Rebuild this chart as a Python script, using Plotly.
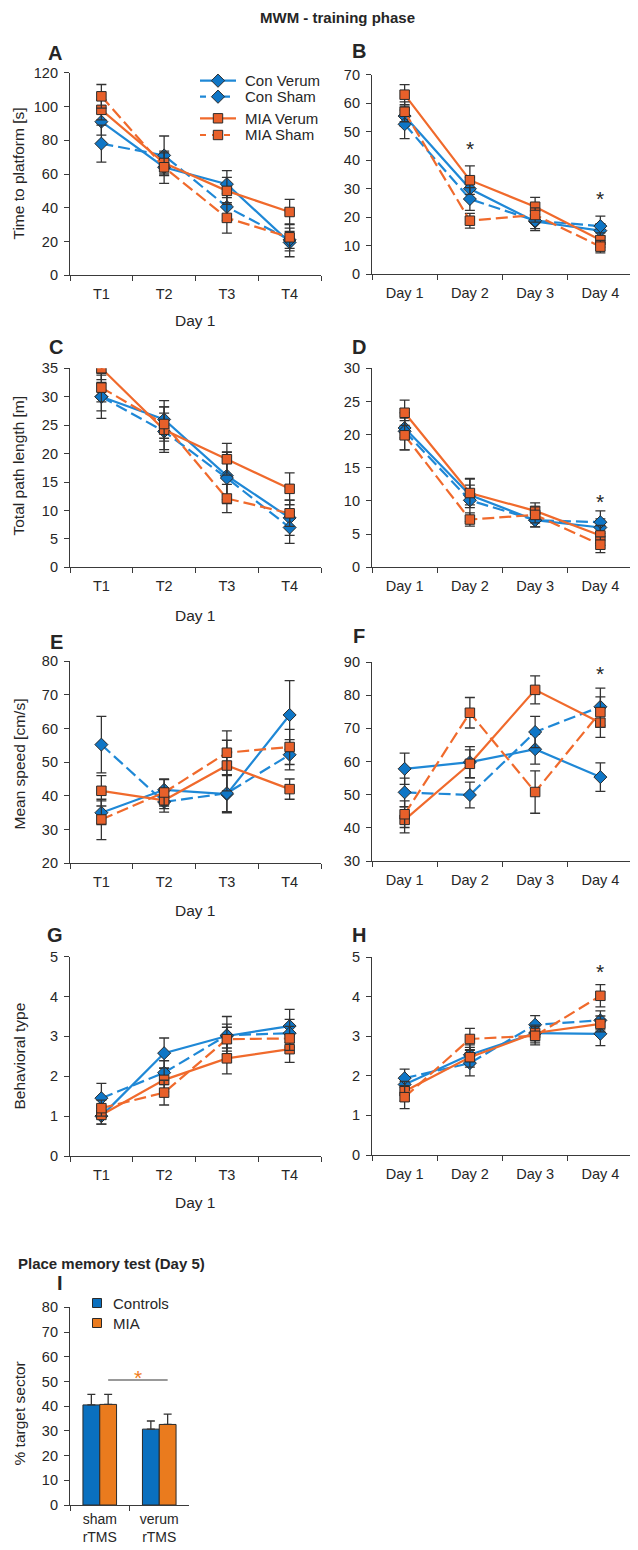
import plotly.graph_objects as go

W, H = 638, 1550
OFF = 8  # the page body margin shifts the whole figure by 8 px

TRIALS = ["T1", "T2", "T3", "T4"]
DAYS = ["Day 1", "Day 2", "Day 3", "Day 4"]
SERIES = ["Con Verum", "Con Sham", "MIA Verum", "MIA Sham"]

# A - time to platform, day 1 trials
A_CON_VERUM = [91, 64, 54, 19.5]
A_CON_VERUM_ERR = [8, 5, 8, 8.5]
A_CON_SHAM = [78, 71, 40.5, 21]
A_CON_SHAM_ERR = [11, 11.5, 8, 5]
A_MIA_VERUM = [98, 66.5, 50, 37.5]
A_MIA_VERUM_ERR = [6, 6, 8, 7.5]
A_MIA_SHAM = [106, 64, 34, 22.5]
A_MIA_SHAM_ERR = [7, 9.5, 9, 8]

# B - time to platform, days
B_CON_VERUM = [55.5, 30, 18.5, 15.3]
B_CON_VERUM_ERR = [3.5, 4, 2.5, 2.5]
B_CON_SHAM = [52.6, 26.4, 18.8, 16.9]
B_CON_SHAM_ERR = [5, 4, 3.5, 3.5]
B_MIA_VERUM = [63, 33, 23.7, 12]
B_MIA_VERUM_ERR = [3.5, 5, 3.3, 2.5]
B_MIA_SHAM = [57, 18.8, 20.8, 9.7]
B_MIA_SHAM_ERR = [3.5, 2.6, 2.5, 2.2]

# C - total path length, day 1 trials
C_CON_VERUM = [30, 26, 16.1, 8.7]
C_CON_VERUM_ERR = [2.5, 3.3, 4.2, 3.1]
C_CON_SHAM = [30, 23.9, 15.7, 7.0]
C_CON_SHAM_ERR = [3.8, 3.2, 4.5, 2.8]
C_MIA_VERUM = [35, 24.2, 19, 13.8]
C_MIA_VERUM_ERR = [2, 4, 2.8, 2.8]
C_MIA_SHAM = [31.6, 25.2, 12.1, 9.5]
C_MIA_SHAM_ERR = [2.5, 3, 2.5, 2.3]

# D - total path length, days
D_CON_VERUM = [21, 10.9, 7.1, 6.0]
D_CON_VERUM_ERR = [1.5, 1.5, 1.0, 1.3]
D_CON_SHAM = [20.5, 10.1, 7.1, 6.8]
D_CON_SHAM_ERR = [2.8, 3.2, 1.0, 1.7]
D_MIA_VERUM = [23.3, 11.2, 8.5, 4.8]
D_MIA_VERUM_ERR = [1.9, 2.2, 1.2, 1.5]
D_MIA_SHAM = [19.9, 7.2, 7.9, 3.4]
D_MIA_SHAM_ERR = [2.2, 1.0, 1.2, 1.2]

# E - mean speed, day 1 trials
E_CON_VERUM = [35, 41.8, 40.5, 64]
E_CON_VERUM_ERR = [3.5, 3, 5.5, 10.2]
E_CON_SHAM = [55.2, 38.2, 40.8, 52.2]
E_CON_SHAM_ERR = [8.4, 3, 5.5, 4.5]
E_MIA_VERUM = [41.5, 38.7, 49, 42]
E_MIA_VERUM_ERR = [4.5, 2.5, 7.5, 3]
E_MIA_SHAM = [33, 41, 52.8, 54.5]
E_MIA_SHAM_ERR = [6, 4, 6.5, 5.2]

# F - mean speed, days
F_CON_VERUM = [57.8, 59.8, 63.7, 55.3]
F_CON_VERUM_ERR = [4.7, 4.7, 4.5, 4.3]
F_CON_SHAM = [50.7, 49.9, 68.9, 76.5]
F_CON_SHAM_ERR = [4.3, 3.9, 4.7, 5.6]
F_MIA_VERUM = [42.4, 59.3, 81.6, 71.7]
F_MIA_VERUM_ERR = [3.9, 4.2, 4.2, 4.4]
F_MIA_SHAM = [44.1, 74.7, 50.8, 74.9]
F_MIA_SHAM_ERR = [4, 4.6, 6.4, 4.6]

# G - behavioral type, day 1 trials
G_CON_VERUM = [1.0, 2.58, 3.01, 3.26]
G_CON_VERUM_ERR = [0.2, 0.38, 0.3, 0.42]
G_CON_SHAM = [1.45, 2.09, 3.03, 3.08]
G_CON_SHAM_ERR = [0.37, 0.3, 0.47, 0.35]
G_MIA_VERUM = [1.03, 1.91, 2.45, 2.68]
G_MIA_VERUM_ERR = [0.23, 0.3, 0.39, 0.33]
G_MIA_SHAM = [1.2, 1.59, 2.93, 2.95]
G_MIA_SHAM_ERR = [0.2, 0.31, 0.3, 0.3]

# H - behavioral type, days
H_CON_VERUM = [1.78, 2.53, 3.08, 3.06]
H_CON_VERUM_ERR = [0.2, 0.25, 0.25, 0.3]
H_CON_SHAM = [1.94, 2.32, 3.29, 3.4]
H_CON_SHAM_ERR = [0.23, 0.32, 0.23, 0.24]
H_MIA_VERUM = [1.61, 2.47, 3.08, 3.31]
H_MIA_VERUM_ERR = [0.25, 0.25, 0.2, 0.2]
H_MIA_SHAM = [1.46, 2.93, 3.01, 4.02]
H_MIA_SHAM_ERR = [0.29, 0.27, 0.23, 0.28]

# I - place memory test
I_GROUPS = ["sham<br>rTMS", "verum<br>rTMS"]
I_CONTROLS = [40.5, 30.7]
I_CONTROLS_ERR = [4.3, 3.3]
I_MIA = [40.7, 32.6]
I_MIA_ERR = [4.1, 4.2]

BLUE_LINE, BLUE_MK = "#1f88d6", "#0f76c6"
ORANGE_LINE, ORANGE_MK = "#f06a2c", "#e8602a"
BAR_BLUE, BAR_ORANGE = "#0a70bf", "#ea7b1e"
INK = "#262626"
EDGE = "#2a2a2a"
FONT = "Arial, Liberation Sans, sans-serif"
DASH = "12px,5px"

STYLE = {
    "Con Verum": dict(line=BLUE_LINE, mk=BLUE_MK, dash="solid", sym="diamond", size=10),
    "Con Sham": dict(line=BLUE_LINE, mk=BLUE_MK, dash=DASH, sym="diamond", size=10),
    "MIA Verum": dict(line=ORANGE_LINE, mk=ORANGE_MK, dash="solid", sym="square", size=9.5),
    "MIA Sham": dict(line=ORANGE_LINE, mk=ORANGE_MK, dash=DASH, sym="square", size=9.5),
}


def px(x):
    return (x - OFF) / W


def py(y):
    return 1 - (y - OFF) / H


def xdom(l, r):
    return [px(l), px(r)]


def ydom(bottom, top):
    return [py(bottom), py(top)]


# panel: (key, cats, series data, errors, x px, y px, range, dtick)
PANELS = [
    ("A", TRIALS, [A_CON_VERUM, A_CON_SHAM, A_MIA_VERUM, A_MIA_SHAM],
     [A_CON_VERUM_ERR, A_CON_SHAM_ERR, A_MIA_VERUM_ERR, A_MIA_SHAM_ERR], (70, 321), (275.3, 72.7), [0, 120], 20),
    ("B", DAYS, [B_CON_VERUM, B_CON_SHAM, B_MIA_VERUM, B_MIA_SHAM],
     [B_CON_VERUM_ERR, B_CON_SHAM_ERR, B_MIA_VERUM_ERR, B_MIA_SHAM_ERR], (372, 633), (274.3, 74.7), [0, 70], 10),
    ("C", TRIALS, [C_CON_VERUM, C_CON_SHAM, C_MIA_VERUM, C_MIA_SHAM],
     [C_CON_VERUM_ERR, C_CON_SHAM_ERR, C_MIA_VERUM_ERR, C_MIA_SHAM_ERR], (70, 321), (567.3, 368.3), [0, 35], 5),
    ("D", DAYS, [D_CON_VERUM, D_CON_SHAM, D_MIA_VERUM, D_MIA_SHAM],
     [D_CON_VERUM_ERR, D_CON_SHAM_ERR, D_MIA_VERUM_ERR, D_MIA_SHAM_ERR], (372, 633), (567.3, 368.3), [0, 30], 5),
    ("E", TRIALS, [E_CON_VERUM, E_CON_SHAM, E_MIA_VERUM, E_MIA_SHAM],
     [E_CON_VERUM_ERR, E_CON_SHAM_ERR, E_MIA_VERUM_ERR, E_MIA_SHAM_ERR], (70, 321), (863.3, 661), [20, 80], 10),
    ("F", DAYS, [F_CON_VERUM, F_CON_SHAM, F_MIA_VERUM, F_MIA_SHAM],
     [F_CON_VERUM_ERR, F_CON_SHAM_ERR, F_MIA_VERUM_ERR, F_MIA_SHAM_ERR], (372, 633), (861, 662), [30, 90], 10),
    ("G", TRIALS, [G_CON_VERUM, G_CON_SHAM, G_MIA_VERUM, G_MIA_SHAM],
     [G_CON_VERUM_ERR, G_CON_SHAM_ERR, G_MIA_VERUM_ERR, G_MIA_SHAM_ERR], (70, 321), (1156, 956.7), [0, 5], 1),
    ("H", DAYS, [H_CON_VERUM, H_CON_SHAM, H_MIA_VERUM, H_MIA_SHAM],
     [H_CON_VERUM_ERR, H_CON_SHAM_ERR, H_MIA_VERUM_ERR, H_MIA_SHAM_ERR], (372, 633), (1155, 957), [0, 5], 1),
]

axis_common = dict(
    showline=True, linecolor="#3a3a3a", linewidth=1.2, ticks="outside", ticklen=5,
    tickcolor="#3a3a3a", tickwidth=1.2, showgrid=False, zeroline=False, automargin=False,
    tickfont=dict(family=FONT, size=14.5, color=INK), fixedrange=True,
)

fig = go.Figure()
layout = {}

for n, (key, cats, data, errs, xpx, ypx, yrange, dtick) in enumerate(PANELS, start=1):
    xa, ya = f"x{n}", f"y{n}"
    for name, vals, err in zip(SERIES, data, errs):
        s = STYLE[name]
        fig.add_trace(go.Scatter(
            x=cats, y=vals, xaxis=xa, yaxis=ya, name=name, mode="lines+markers",
            showlegend=False,
            line=dict(color=s["line"], width=2.2, dash=s["dash"]),
            marker=dict(symbol=s["sym"], size=s["size"], color=s["mk"],
                        line=dict(color=EDGE, width=1)),
            error_y=dict(type="data", array=err, color="#333333", thickness=1.3, width=5),
        ))
    layout[f"xaxis{n}"] = dict(axis_common, domain=xdom(*xpx), anchor=ya, type="category",
                               categoryorder="array", categoryarray=cats,
                               range=[-0.5, 3.5], tickson="boundaries", ticklabelstandoff=5)
    layout[f"yaxis{n}"] = dict(axis_common, domain=ydom(*ypx), anchor=xa,
                               range=yrange, dtick=dtick, ticklabelstandoff=3)

# panel I - bars
BARGAP = 0.435
for name, vals, err, color in [("Controls", I_CONTROLS, I_CONTROLS_ERR, BAR_BLUE),
                               ("MIA", I_MIA, I_MIA_ERR, BAR_ORANGE)]:
    fig.add_trace(go.Bar(
        x=I_GROUPS, y=vals, name=name, xaxis="x9", yaxis="y9", showlegend=False,
        marker=dict(color=color, line=dict(color=EDGE, width=1)),
        error_y=dict(type="data", array=err, arrayminus=[0] * len(err), symmetric=False,
                     color="#333333", thickness=1.3, width=4),
    ))
layout["xaxis9"] = dict(axis_common, domain=xdom(70, 189), anchor="y9", type="category",
                        range=[-0.5, 1.5], tickson="boundaries", ticklabelstandoff=1,
                        tickfont=dict(family=FONT, size=14, color=INK))
layout["yaxis9"] = dict(axis_common, domain=ydom(1505, 1307.3), anchor="x9",
                        range=[0, 80], dtick=10, ticklabelstandoff=3)

mia_off = (1 - BARGAP) / 4
fig.add_shape(type="line", xref="x9", yref="y9", x0=0 + mia_off, x1=1 + mia_off,
              y0=50.6, y1=50.6, line=dict(color="#777777", width=1.5))


def ann(text, xpx, ypx, size=15.5, bold=False, angle=0, color=INK, xanchor="center"):
    if bold:
        text = f"<b>{text}</b>"
    fig.add_annotation(text=text, x=px(xpx), y=py(ypx), xref="paper", yref="paper",
                       showarrow=False, textangle=angle, xanchor=xanchor, yanchor="middle",
                       font=dict(family=FONT, size=size, color=color))


ann("MWM - training phase", 337, 17, size=15, bold=True)
ann("Place memory test (Day 5)", 111, 1263, size=15, bold=True)

for letter, xp, yp in [("A", 55, 53), ("B", 359, 51), ("C", 56, 347), ("D", 359, 347),
                       ("E", 56, 642), ("F", 359, 636), ("G", 55, 935), ("H", 359, 935),
                       ("I", 60, 1283)]:
    ann(letter, xp, yp, size=20, bold=True)

for yp in [320, 615, 910, 1202]:
    ann("Day 1", 195.5, yp)

for title, yp in [("Time to platform [s]", 174), ("Total path length [m]", 466),
                  ("Mean speed [cm/s]", 764), ("Behavioral type", 1056),
                  ("% target sector", 1414)]:
    ann(title, 18.5, yp, angle=-90)

# significance markers
for n, cat, yv in [(2, "Day 2", 45.9), (2, "Day 4", 28.4), (4, "Day 4", 10.65),
                   (6, "Day 4", 88.1), (8, "Day 4", 4.76)]:
    fig.add_annotation(text="*", x=cat, y=yv, xref=f"x{n}", yref=f"y{n}", showarrow=False,
                       yshift=-5, font=dict(family=FONT, size=21, color=INK))
fig.add_annotation(text="*", x=0.5 + mia_off, y=53.5, xref="x9", yref="y9", showarrow=False,
                   yshift=-5, font=dict(family=FONT, size=21, color="#f07c1c"))


# legend keys for panel A (drawn as shapes so the rows sit as tight as in the figure)
def diamond_path(cx, cy, r):
    return (f"M{px(cx)},{py(cy - r)} L{px(cx + r)},{py(cy)} "
            f"L{px(cx)},{py(cy + r)} L{px(cx - r)},{py(cy)} Z")


for name, yp in zip(SERIES, [80.7, 96.7, 118.3, 135]):
    s = STYLE[name]
    fig.add_shape(type="line", xref="paper", yref="paper", x0=px(200), x1=px(236),
                  y0=py(yp), y1=py(yp),
                  line=dict(color=s["line"], width=2.2, dash="solid" if s["dash"] == "solid" else "6px,6px"))
    if s["sym"] == "diamond":
        fig.add_shape(type="path", xref="paper", yref="paper", path=diamond_path(218, yp, 6.6),
                      fillcolor=s["mk"], line=dict(color=EDGE, width=1))
    else:
        fig.add_shape(type="rect", xref="paper", yref="paper", x0=px(213.3), x1=px(222.7),
                      y0=py(yp + 4.7), y1=py(yp - 4.7), fillcolor=s["mk"],
                      line=dict(color=EDGE, width=1))
    ann(name, 243, yp, size=15, xanchor="left")

# legend keys for panel I
for name, color, yp in [("Controls", BAR_BLUE, 1303), ("MIA", BAR_ORANGE, 1323)]:
    fig.add_shape(type="rect", xref="paper", yref="paper", x0=px(92.5), x1=px(101.5),
                  y0=py(yp + 4.5), y1=py(yp - 4.5), fillcolor=color,
                  line=dict(color=EDGE, width=1))
    ann(name, 111, yp, size=15, xanchor="left")

fig.update_layout(
    **layout,
    width=W, height=H,
    margin=dict(l=0, r=0, t=0, b=0),
    paper_bgcolor="white", plot_bgcolor="white",
    barmode="group", bargap=BARGAP, bargroupgap=0,
    showlegend=False,
    font=dict(family=FONT, color=INK),
)

fig.write_html("out.html")
